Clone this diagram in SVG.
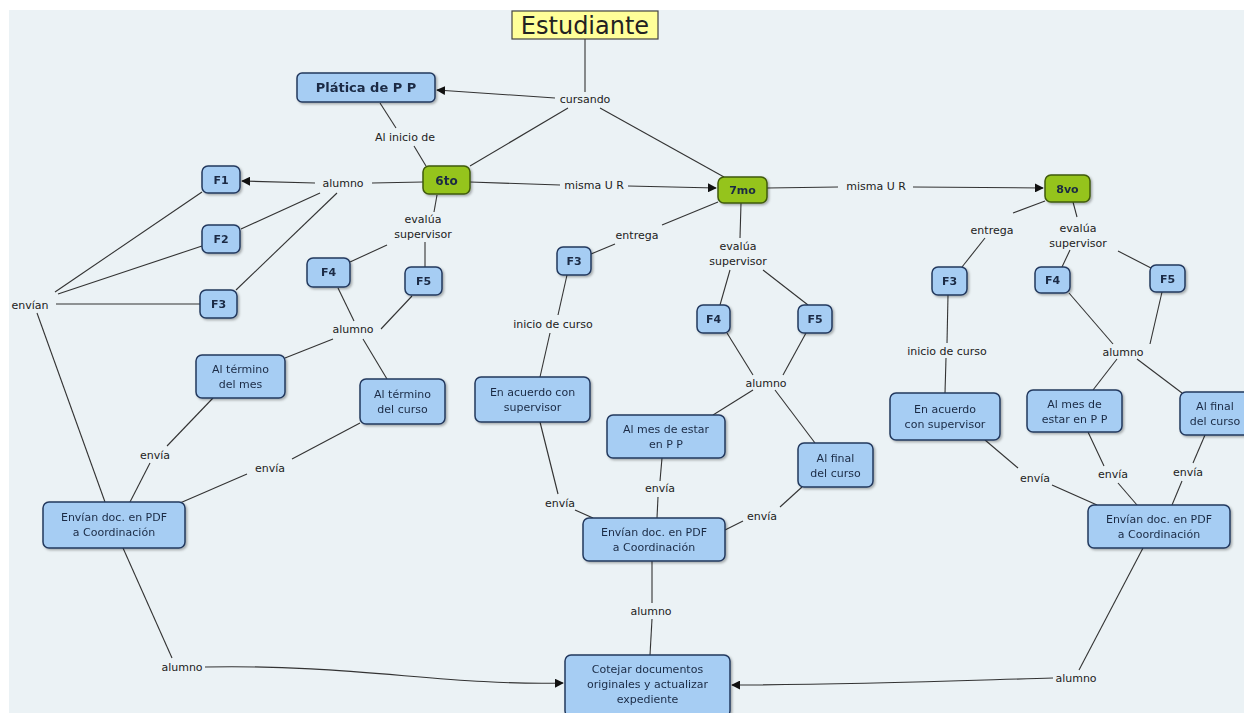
<svg xmlns="http://www.w3.org/2000/svg" width="1244" height="713" viewBox="0 0 1244 713">
<style>
.bg{fill:#ebf2f5}
.n{fill:#a6cdf3;stroke:#23395e;stroke-width:1.5}
.g{fill:#95c41a;stroke:#3f5a0a;stroke-width:1.5}
.y{fill:#ffff99;stroke:#444;stroke-width:1.2}
.t{font-family:"DejaVu Sans",Verdana,sans-serif;font-size:11px;fill:#1a2a44;text-anchor:middle}
.b{font-weight:bold}
.lb{font-family:"DejaVu Sans",Verdana,sans-serif;font-size:11px;fill:#222;text-anchor:middle}
.c line,.c path{stroke:#333;stroke-width:1.1;fill:none}
</style>
<defs>
<marker id="ah" viewBox="0 0 10 10" refX="9" refY="5" markerWidth="9" markerHeight="9" markerUnits="userSpaceOnUse" orient="auto">
<path d="M0,0 L10,5 L0,10 z" fill="#111"/>
</marker>
<filter id="sh" x="-10%" y="-10%" width="130%" height="140%">
<feDropShadow dx="1.5" dy="1.5" stdDeviation="1" flood-color="#000" flood-opacity="0.3"/>
</filter>
</defs>
<rect x="0" y="0" width="1244" height="713" fill="#ffffff"/>
<rect class="bg" x="9" y="10" width="1235" height="703"/>

<g class="c">
<line x1="585" y1="39" x2="585" y2="92"/>
<line x1="555" y1="98" x2="437" y2="90" marker-end="url(#ah)"/>
<line x1="568" y1="108" x2="470" y2="166"/>
<line x1="600" y1="108" x2="724" y2="177"/>
<line x1="380" y1="103" x2="396" y2="128"/>
<line x1="414" y1="146" x2="426" y2="166"/>
<line x1="423" y1="182" x2="372" y2="183"/>
<line x1="315" y1="183" x2="242" y2="181" marker-end="url(#ah)"/>
<line x1="470" y1="182" x2="560" y2="185"/>
<line x1="628" y1="186" x2="716" y2="188" marker-end="url(#ah)"/>
<line x1="767" y1="188" x2="838" y2="187"/>
<line x1="913" y1="187" x2="1043" y2="188" marker-end="url(#ah)"/>
<line x1="320" y1="193" x2="241" y2="229"/>
<line x1="337" y1="193" x2="236" y2="290"/>
<line x1="55" y1="292" x2="202" y2="192"/>
<line x1="58" y1="294" x2="202" y2="246"/>
<line x1="56" y1="304" x2="200" y2="304"/>
<line x1="37" y1="313" x2="105" y2="502"/>
<line x1="437" y1="195" x2="434" y2="212"/>
<line x1="387" y1="245" x2="350" y2="262"/>
<line x1="425" y1="242" x2="425" y2="267"/>
<line x1="338" y1="288" x2="354" y2="321"/>
<line x1="412" y1="296" x2="381" y2="329"/>
<line x1="333" y1="339" x2="285" y2="358"/>
<line x1="363" y1="339" x2="387" y2="379"/>
<line x1="213" y1="398" x2="167" y2="446"/>
<line x1="150" y1="463" x2="130" y2="502"/>
<line x1="360" y1="423" x2="292" y2="459"/>
<line x1="247" y1="474" x2="180" y2="503"/>
<line x1="123" y1="548" x2="172" y2="658"/>
<path d="M205,667 C350,664 450,686 563,683" marker-end="url(#ah)"/>
<line x1="718" y1="202" x2="662" y2="225"/>
<line x1="615" y1="244" x2="591" y2="254"/>
<line x1="741" y1="203" x2="740" y2="238"/>
<line x1="730" y1="270" x2="720" y2="305"/>
<line x1="763" y1="270" x2="808" y2="305"/>
<line x1="567" y1="275" x2="558" y2="315"/>
<line x1="550" y1="333" x2="540" y2="377"/>
<line x1="727" y1="333" x2="753" y2="375"/>
<line x1="806" y1="333" x2="783" y2="375"/>
<line x1="753" y1="390" x2="713" y2="415"/>
<line x1="775" y1="390" x2="815" y2="443"/>
<line x1="540" y1="422" x2="558" y2="494"/>
<line x1="575" y1="510" x2="593" y2="518"/>
<line x1="662" y1="458" x2="660" y2="481"/>
<line x1="658" y1="497" x2="657" y2="518"/>
<line x1="802" y1="487" x2="780" y2="507"/>
<line x1="743" y1="521" x2="725" y2="530"/>
<line x1="652" y1="561" x2="652" y2="603"/>
<line x1="652" y1="619" x2="650" y2="655"/>
<line x1="1045" y1="201" x2="1013" y2="213"/>
<line x1="985" y1="238" x2="962" y2="267"/>
<line x1="1073" y1="202" x2="1077" y2="217"/>
<line x1="1070" y1="250" x2="1062" y2="267"/>
<line x1="1118" y1="251" x2="1151" y2="268"/>
<line x1="948" y1="295" x2="947" y2="343"/>
<line x1="946" y1="358" x2="945" y2="393"/>
<line x1="1069" y1="293" x2="1113" y2="344"/>
<line x1="1162" y1="292" x2="1150" y2="344"/>
<line x1="1117" y1="359" x2="1093" y2="390"/>
<line x1="1137" y1="359" x2="1182" y2="393"/>
<line x1="985" y1="440" x2="1018" y2="468"/>
<line x1="1052" y1="485" x2="1097" y2="505"/>
<line x1="1088" y1="432" x2="1104" y2="466"/>
<line x1="1118" y1="483" x2="1137" y2="505"/>
<line x1="1205" y1="435" x2="1193" y2="463"/>
<line x1="1182" y1="481" x2="1172" y2="505"/>
<line x1="1143" y1="548" x2="1079" y2="670"/>
<path d="M1053,678 C950,681 850,685 732,685" marker-end="url(#ah)"/>
</g>

<g id="labels">
<text class="lb" x="585" y="103">cursando</text>
<text class="lb" x="405" y="141">Al inicio de</text>
<text class="lb" x="343" y="187">alumno</text>
<text class="lb" x="594" y="189">misma U R</text>
<text class="lb" x="876" y="190">misma U R</text>
<text class="lb" x="30" y="309">envían</text>
<text class="lb" x="423" y="223">evalúa</text>
<text class="lb" x="423" y="238">supervisor</text>
<text class="lb" x="353" y="333">alumno</text>
<text class="lb" x="155" y="459">envía</text>
<text class="lb" x="270" y="472">envía</text>
<text class="lb" x="182" y="671">alumno</text>
<text class="lb" x="637" y="239">entrega</text>
<text class="lb" x="738" y="250">evalúa</text>
<text class="lb" x="738" y="265">supervisor</text>
<text class="lb" x="553" y="328">inicio de curso</text>
<text class="lb" x="766" y="387">alumno</text>
<text class="lb" x="560" y="507">envía</text>
<text class="lb" x="660" y="492">envía</text>
<text class="lb" x="762" y="520">envía</text>
<text class="lb" x="651" y="615">alumno</text>
<text class="lb" x="1076" y="682">alumno</text>
<text class="lb" x="992" y="234">entrega</text>
<text class="lb" x="1078" y="232">evalúa</text>
<text class="lb" x="1078" y="247">supervisor</text>
<text class="lb" x="947" y="355">inicio de curso</text>
<text class="lb" x="1123" y="356">alumno</text>
<text class="lb" x="1035" y="482">envía</text>
<text class="lb" x="1113" y="478">envía</text>
<text class="lb" x="1188" y="476">envía</text>
</g>

<g id="estudiante"><rect class="y" x="512" y="11" width="146" height="28"/><text class="t" x="585" y="34" style="font-size:24px;fill:#222">Estudiante</text></g>
<g id="platica" filter="url(#sh)"><rect class="n" x="297" y="73" width="138" height="29" rx="5"/><text class="t b" x="366" y="92" style="font-size:13px">Plática de P P</text></g>
<g id="sexto" filter="url(#sh)"><rect class="g" x="423" y="166" width="47" height="28" rx="6"/><text class="t b" x="446.5" y="184.5" style="font-size:12px">6to</text></g>
<g id="septimo" filter="url(#sh)"><rect class="g" x="718" y="177" width="49" height="26" rx="6"/><text class="t b" x="742.5" y="194">7mo</text></g>
<g id="octavo" filter="url(#sh)"><rect class="g" x="1045" y="175" width="45" height="27" rx="6"/><text class="t b" x="1067.5" y="192.5">8vo</text></g>

<g id="f1" filter="url(#sh)"><rect class="n" x="202" y="166" width="38" height="27" rx="6"/><text class="t b" x="221" y="184">F1</text></g>
<g id="f2" filter="url(#sh)"><rect class="n" x="202" y="225" width="38" height="28" rx="6"/><text class="t b" x="221" y="243">F2</text></g>
<g id="f3a" filter="url(#sh)"><rect class="n" x="200" y="290" width="37" height="28" rx="6"/><text class="t b" x="218.5" y="308">F3</text></g>
<g id="f4a" filter="url(#sh)"><rect class="n" x="307" y="258" width="43" height="29" rx="6"/><text class="t b" x="328.5" y="276">F4</text></g>
<g id="f5a" filter="url(#sh)"><rect class="n" x="405" y="267" width="37" height="28" rx="6"/><text class="t b" x="423.5" y="285">F5</text></g>
<g id="termino-mes" filter="url(#sh)"><rect class="n" x="196" y="355" width="89" height="43" rx="6"/><text class="t" x="240.5" y="373">Al término</text><text class="t" x="240.5" y="388">del mes</text></g>
<g id="termino-curso" filter="url(#sh)"><rect class="n" x="360" y="379" width="85" height="45" rx="6"/><text class="t" x="402.5" y="398">Al término</text><text class="t" x="402.5" y="413">del curso</text></g>
<g id="envian-a" filter="url(#sh)"><rect class="n" x="43" y="502" width="142" height="46" rx="6"/><text class="t" x="114" y="521">Envían doc. en PDF</text><text class="t" x="114" y="536">a Coordinación</text></g>

<g id="f3b" filter="url(#sh)"><rect class="n" x="557" y="247" width="34" height="28" rx="6"/><text class="t b" x="574" y="265">F3</text></g>
<g id="f4b" filter="url(#sh)"><rect class="n" x="697" y="305" width="33" height="28" rx="6"/><text class="t b" x="713.5" y="323">F4</text></g>
<g id="f5b" filter="url(#sh)"><rect class="n" x="798" y="305" width="34" height="28" rx="6"/><text class="t b" x="815" y="323">F5</text></g>
<g id="acuerdo-b" filter="url(#sh)"><rect class="n" x="475" y="377" width="115" height="45" rx="6"/><text class="t" x="532.5" y="396">En acuerdo con</text><text class="t" x="532.5" y="411">supervisor</text></g>
<g id="mes-b" filter="url(#sh)"><rect class="n" x="607" y="415" width="118" height="43" rx="6"/><text class="t" x="666" y="433">Al mes de estar</text><text class="t" x="666" y="448">en P P</text></g>
<g id="final-b" filter="url(#sh)"><rect class="n" x="798" y="443" width="75" height="44" rx="6"/><text class="t" x="835.5" y="462">Al final</text><text class="t" x="835.5" y="477">del curso</text></g>
<g id="envian-b" filter="url(#sh)"><rect class="n" x="583" y="518" width="142" height="43" rx="6"/><text class="t" x="654" y="536">Envían doc. en PDF</text><text class="t" x="654" y="551">a Coordinación</text></g>
<g id="cotejar" filter="url(#sh)"><rect class="n" x="565" y="655" width="165" height="62" rx="6"/><text class="t" x="647.5" y="673">Cotejar documentos</text><text class="t" x="647.5" y="688">originales y actualizar</text><text class="t" x="647.5" y="703">expediente</text></g>

<g id="f3c" filter="url(#sh)"><rect class="n" x="932" y="267" width="35" height="28" rx="6"/><text class="t b" x="949.5" y="285">F3</text></g>
<g id="f4c" filter="url(#sh)"><rect class="n" x="1035" y="267" width="35" height="26" rx="6"/><text class="t b" x="1052.5" y="284">F4</text></g>
<g id="f5c" filter="url(#sh)"><rect class="n" x="1150" y="265" width="35" height="27" rx="6"/><text class="t b" x="1167.5" y="283">F5</text></g>
<g id="acuerdo-c" filter="url(#sh)"><rect class="n" x="890" y="393" width="110" height="47" rx="6"/><text class="t" x="945" y="413">En acuerdo</text><text class="t" x="945" y="428">con supervisor</text></g>
<g id="mes-c" filter="url(#sh)"><rect class="n" x="1027" y="390" width="95" height="42" rx="6"/><text class="t" x="1074.5" y="408">Al mes de</text><text class="t" x="1074.5" y="423">estar en P P</text></g>
<g id="final-c" filter="url(#sh)"><rect class="n" x="1180" y="392" width="80" height="43" rx="6"/><text class="t" x="1215" y="410">Al final</text><text class="t" x="1215" y="425">del curso</text></g>
<g id="envian-c" filter="url(#sh)"><rect class="n" x="1088" y="505" width="142" height="43" rx="6"/><text class="t" x="1159" y="523">Envían doc. en PDF</text><text class="t" x="1159" y="538">a Coordinación</text></g>
</svg>
